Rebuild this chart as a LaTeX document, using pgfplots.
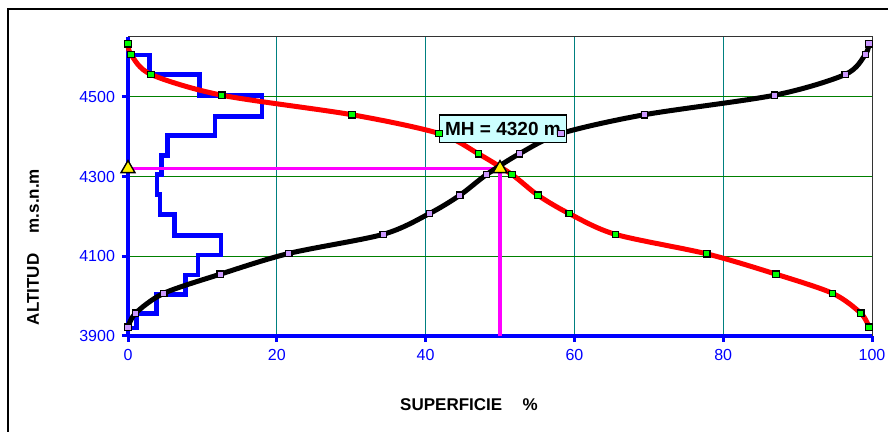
\documentclass[border=0pt]{standalone}
\usepackage{pgfplots}
\pgfplotsset{compat=1.18}
\usepackage{fontspec}
\setmainfont{Liberation Sans}

\definecolor{gridteal}{RGB}{0,128,128}
\definecolor{gridgreen}{RGB}{0,128,0}
\definecolor{axblue}{RGB}{0,0,255}
\definecolor{mkgreen}{RGB}{0,255,0}
\definecolor{mkpurple}{RGB}{204,153,255}
\definecolor{boxcyan}{RGB}{204,255,255}
\definecolor{mhmagenta}{RGB}{255,0,255}

\begin{document}
\begin{tikzpicture}
% outer chart frame (runs off the right and bottom edges)
\draw[black, line width=0.7pt] (4pt,-4.5pt) rectangle (470pt,-240pt);

\begin{axis}[
  at={(64pt,-18.5pt)}, anchor=north west,
  width=372pt, height=149.5pt, scale only axis,
  xmin=0, xmax=100, ymin=3900, ymax=4650,
  xtick={0,20,40,60,80,100}, ytick={3900,4100,4300,4500},
  grid=major,
  x grid style={gridteal, line width=0.5pt},
  y grid style={gridgreen, line width=0.5pt},
  axis line style={black!80, line width=0.5pt},
  tick align=outside, xtick pos=left, ytick pos=left,
  major tick length=3pt,
  every tick/.style={axblue, line width=1.5pt},
  tick label style={font=\fontsize{8}{9}\selectfont, text=axblue},
  /pgf/number format/assume math mode=true,
  /pgf/number format/1000 sep={},
  clip=false,
]
% blue axis lines
\draw[axblue, line width=2.4pt] (rel axis cs:0,0) -- (rel axis cs:1,0);
\draw[axblue, line width=2.4pt] (rel axis cs:0,0) -- (rel axis cs:0,1);

% histogram of area per altitude band
\addplot[axblue, line width=2.4pt, line join=miter] coordinates {
 (0,4605)(2.9,4605)(2.9,4555)(9.6,4555)(9.6,4503)(18.0,4503)
 (18.0,4450)(11.7,4450)(11.7,4403)(5.3,4403)(5.3,4353)(4.5,4353)
 (4.5,4305)(3.9,4305)(3.9,4255)(4.3,4255)(4.3,4205)(6.2,4205)
 (6.2,4153)(12.5,4153)(12.5,4103)(9.4,4103)(9.4,4053)(7.7,4053)
 (7.7,4005)(3.8,4005)(3.8,3956)(1.1,3956)(1.1,3920)(0,3920)};

% median altitude
\addplot[mhmagenta, line width=1.8pt] coordinates {(0,4320)(50,4320)(50,3900)};

% area above altitude
\addplot[red, line width=2.5pt, smooth, mark=square*, mark size=1.6pt,
  mark options={fill=mkgreen, draw=black, line width=0.6pt}] coordinates {
 (0,4633)(0.4,4606)(3.1,4556)(12.6,4504)(30.1,4455)(41.8,4408)
 (47.1,4357)(51.6,4305)(55.1,4253)(59.3,4207)(65.5,4155)(77.8,4106)
 (87.1,4055)(94.7,4007)(98.5,3957)(99.6,3922)};

% area below altitude
\addplot[black, line width=2.5pt, smooth, mark=square*, mark size=1.6pt,
  mark options={fill=mkpurple, draw=black, line width=0.6pt}] coordinates {
 (0,3922)(1.0,3957)(4.8,4007)(12.4,4055)(21.6,4107)(34.3,4155)
 (40.5,4207)(44.6,4253)(48.2,4305)(52.6,4357)(58.2,4408)(69.4,4455)
 (86.9,4504)(96.4,4556)(99.1,4606)(99.6,4633)};

\addplot[only marks, mark=triangle*, mark size=4pt,
  mark options={fill=yellow, draw=black, line width=0.7pt}] coordinates {
 (0,4320)(50,4320)};

\node[fill=boxcyan, draw=black, line width=0.6pt, inner xsep=3pt, inner ysep=3.5pt,
  font=\bfseries\fontsize{9.5}{10}\selectfont] at (axis cs:50.4,4420) {MH = 4320 m};
\end{axis}

\node[font=\bfseries\fontsize{8.5}{10}\selectfont] at (234.5pt,-202.5pt)
  {SUPERFICIE\hspace{1.2em}\%};
\node[rotate=90, font=\bfseries\fontsize{8.5}{10}\selectfont] at (16.5pt,-123.5pt)
  {ALTITUD\hspace{1.2em}m.s.n.m};

\pgfresetboundingbox
\useasboundingbox (0,0) rectangle (444pt,-216pt);
\end{tikzpicture}
\end{document}
